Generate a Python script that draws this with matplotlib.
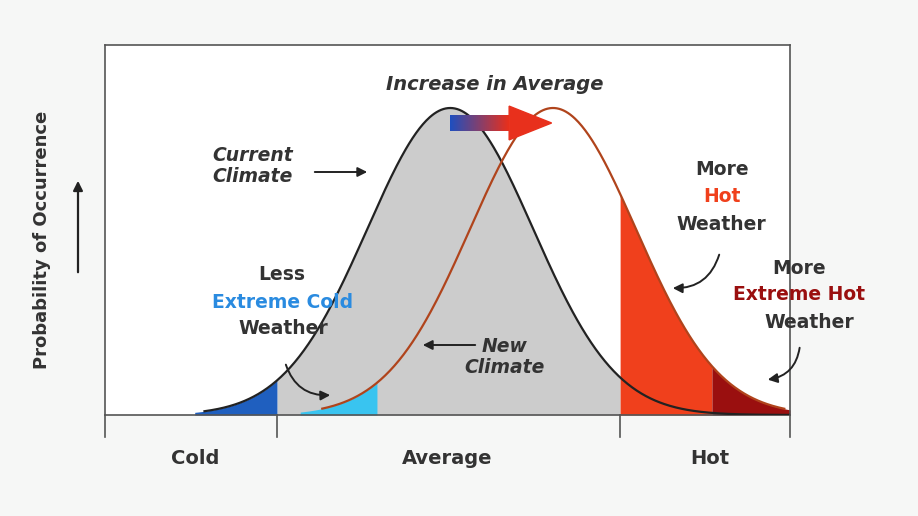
import numpy as np
import matplotlib.pyplot as plt
from matplotlib.colors import LinearSegmentedColormap
from matplotlib.patches import FancyArrowPatch

# distribution parameters (x in 0..100 across the plot, y = relative probability)
current_mean, new_mean, sigma = 50.4, 65.4, 12.1
peak = 1.0
cold_edge, hot_edge = 25.1, 75.2          # tick positions between Cold/Average/Hot
cold_start = 13.1                         # start of dark-blue tail
cyan_span = (28.5, 39.7)                  # less extreme cold (new curve)
red_span = (75.2, 88.6)                   # more hot weather
dark_red_span = (88.6, 100.0)             # more extreme hot
tick_pos = [0, cold_edge, hot_edge, 100]
cat_labels = ["Cold", "Average", "Hot"]
cat_pos = [13.1, 50.0, 88.3]

def gauss(x, m):
    return peak * np.exp(-(x - m) ** 2 / (2 * sigma ** 2))

fig = plt.figure(figsize=(9.18, 5.16), dpi=100, facecolor="#f6f7f6")
ax = fig.add_axes([105 / 918, 1 - 415 / 516, 685 / 918, 370 / 516])
ax.set_xlim(0, 100)
ax.set_ylim(0, 370 / 307)
ax.set_facecolor("white")
for s in ax.spines.values():
    s.set_color("#555555")
    s.set_linewidth(1.2)
ax.set_xticks([]); ax.set_yticks([])

x = np.linspace(0, 100, 600)
cur = gauss(x, current_mean)
new = gauss(x, new_mean)
ax.plot(x[(cur > 0.012) | (x > 60)], cur[(cur > 0.012) | (x > 60)], color="#222222", lw=1.6, zorder=3)
ax.plot(x[new > 0.02], new[new > 0.02], color="#b0441c", lw=1.6, zorder=3)

def fill(a, b, curve, color):
    xs = np.linspace(a, b, 200)
    ax.fill_between(xs, 0, gauss(xs, curve), color=color, lw=0, zorder=2)

fill(cold_edge, hot_edge, current_mean, "#cccccc")
fill(cold_start, cold_edge, current_mean, "#1f5fbf")
fill(*cyan_span, new_mean, "#39c4f0")
fill(*red_span, new_mean, "#f0401c")
fill(*dark_red_span, new_mean, "#9a0f0f")

# gradient arrow
y0 = 292 / 307
grad = np.linspace(0, 1, 100).reshape(1, -1)
cmap = LinearSegmentedColormap.from_list("br", ["#1f4fbf", "#e8301c"])
ax.imshow(grad, extent=[50.4, 59, y0 - 0.025, y0 + 0.025], cmap=cmap, aspect="auto", zorder=4)
ax.fill([59, 59, 65.2, 59], [y0 - 0.055, y0 + 0.055, y0, y0 - 0.055],
        color="#e8301c", zorder=4)

fig.text(495 / 918, 1 - 85 / 516, "Increase in Average", ha="center", va="center",
         fontsize=14, fontweight="bold", style="italic", color="#333333")

kw = dict(ha="center", va="center", fontsize=13.5, fontweight="bold", color="#333333")
def t(px, py, s, **k):
    d = dict(kw); d.update(k)
    fig.text(px / 918, 1 - py / 516, s, **d)

t(253, 166, "Current\nClimate", style="italic", linespacing=1.1)
t(505, 357, "New\nClimate", style="italic", linespacing=1.1)
t(282, 275, "Less")
t(283, 302, "Extreme Cold", color="#2a8be0")
t(283, 329, "Weather")
t(722, 170, "More")
t(722, 196, "Hot", color="#f0401c")
t(721, 224, "Weather")
t(799, 268, "More")
t(799, 295, "Extreme Hot", color="#9a0f0f")
t(809, 322, "Weather")

# pointer arrows
def arr(p0, p1, rad=0.0):
    fig.patches.append(FancyArrowPatch(
        (p0[0] / 918, 1 - p0[1] / 516), (p1[0] / 918, 1 - p1[1] / 516),
        transform=fig.transFigure, arrowstyle="-|>", mutation_scale=14,
        connectionstyle=f"arc3,rad={rad}", color="#222222", lw=1.4, zorder=6))

arr((312, 172), (370, 172))
arr((478, 345), (420, 345))
arr((285, 362), (333, 395), rad=0.4)
arr((720, 252), (670, 288), rad=-0.4)
arr((800, 345), (765, 380), rad=-0.4)

# bottom axis ticks and labels
for p in tick_pos:
    fig.add_artist(plt.Line2D([(105 + p * 6.85) / 918] * 2, [1 - 415 / 516, 1 - 437 / 516],
                              color="#555555", lw=1.2))
for p, s in zip(cat_pos, cat_labels):
    t(105 + p * 6.85, 458, s, fontsize=14)

fig.text(42 / 918, 1 - 240 / 516, "Probability of Occurrence", rotation=90, ha="center",
         va="center", fontsize=13, fontweight="bold", color="#333333")
fig.patches.append(FancyArrowPatch(
    (78 / 918, 1 - 275 / 516), (78 / 918, 1 - 178 / 516), transform=fig.transFigure,
    arrowstyle="-|>", mutation_scale=14, color="#222222", lw=1.6))

fig.savefig("out.png", dpi=100, facecolor=fig.get_facecolor())
